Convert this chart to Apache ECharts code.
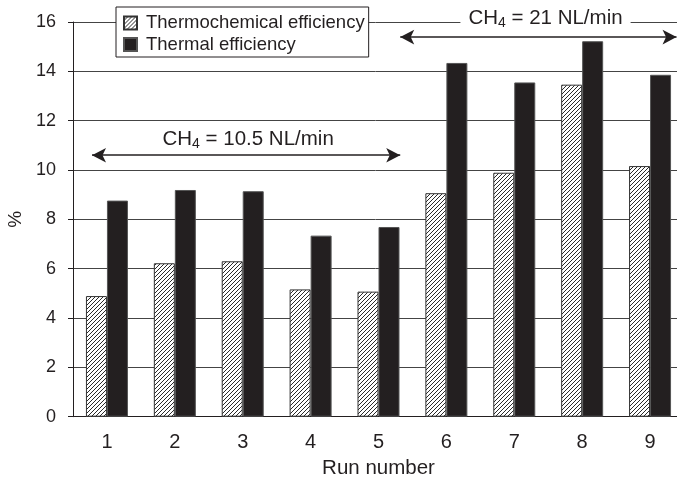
<!DOCTYPE html>
<html><head><meta charset="utf-8">
<script src="https://cdn.jsdelivr.net/npm/echarts@6/dist/echarts.min.js"></script>
<style>html,body{margin:0;padding:0;background:#fff}#c{width:677px;height:481px}</style>
</head><body><div id="c"></div>
<script>
var categories = ['1','2','3','4','5','6','7','8','9'];
var thermochemical = [4.89, 6.22, 6.30, 5.16, 5.07, 9.06, 9.89, 13.46, 10.16];
var thermal = [8.76, 9.19, 9.14, 7.34, 7.69, 14.34, 13.55, 15.22, 13.86];
var yTicks = [0, 2, 4, 6, 8, 10, 12, 14, 16];
// annotation arrows: [xStart, xEnd, y] in run-index units / % units
var arrow10 = [-0.22, 4.32, 10.6];
var arrow21 = [4.32, 8.39, 15.39];
// annotation texts: [x, y, CH, subscript, rest]
var text10 = [2.08, 10.6, 'CH', '4', ' = 10.5 NL/min'];
var text21 = [6.46, 16, 'CH', '4', ' = 21 NL/min'];

var ink = '#231f20';
var tile = document.createElement('canvas');
tile.width = 4; tile.height = 4;
var g = tile.getContext('2d');
g.fillStyle = '#fff'; g.fillRect(0,0,4,4);
g.strokeStyle = '#2a2a2a'; g.lineWidth = 1;
g.beginPath();
g.moveTo(-1,5); g.lineTo(5,-1);
g.moveTo(-3,3); g.lineTo(3,-3);
g.moveTo(1,7); g.lineTo(7,1);
g.stroke();

var font = 'Liberation Sans';
var chart = echarts.init(document.getElementById('c'));
var rich = { n: {fontSize: 20.5, color: ink, fontFamily: font}, s: {fontSize: 14, color: ink, fontFamily: font, verticalAlign: 'bottom', padding: [10,0,0,0]} };
function lbl(t){ return '{n|' + t[2] + '}{s|' + t[3] + '}{n|' + t[4] + '}'; }

chart.setOption({
  animation: false,
  textStyle: {fontFamily: font, color: ink},
  grid: {left: 73, width: 611, top: 22, height: 394.7, outerBoundsMode: 'none', containLabel: false},
  legend: {
    left: 116, top: 7, orient: 'vertical',
    backgroundColor: '#fff', borderColor: ink, borderWidth: 1,
    padding: [6.5, 4, 3, 7], itemGap: 2.5, itemWidth: 13, itemHeight: 13,
    textStyle: {fontSize: 18.5, color: ink, fontFamily: font, padding: [0,0,0,4]},
    data: [{name: 'Thermochemical efficiency', icon: 'rect'}, {name: 'Thermal efficiency', icon: 'rect'}]
  },
  xAxis: [{
    type: 'category', data: categories,
    name: 'Run number', nameLocation: 'middle', nameGap: 41,
    nameTextStyle: {fontSize: 20.5, color: ink, fontFamily: font},
    axisLine: {lineStyle: {color: ink, width: 1}},
    axisTick: {length: 7, lineStyle: {color: ink}},
    axisLabel: {fontSize: 20, color: ink, margin: 16, fontFamily: font}
  }, {
    type: 'value', min: -0.5, max: 8.5, show: false
  }],
  yAxis: {
    type: 'value', min: 0, max: 16, interval: 2,
    name: '%', nameLocation: 'middle', nameGap: 46, nameRotate: 90,
    nameTextStyle: {fontSize: 19, color: ink, fontFamily: font},
    axisLine: {show: true, onZero: false, lineStyle: {color: ink, width: 1}},
    axisTick: {show: true, length: 5, lineStyle: {color: ink}},
    axisLabel: {fontSize: 18, color: ink, margin: 17, fontFamily: font},
    splitLine: {lineStyle: {color: '#444', width: 1}}
  },
  series: [{
    name: 'Thermochemical efficiency', type: 'bar', data: thermochemical,
    barWidth: 21, barGap: '0%',
    itemStyle: {color: {image: tile, repeat: 'repeat'}, borderColor: '#333', borderWidth: 1}
  }, {
    name: 'Thermal efficiency', type: 'bar', data: thermal,
    barWidth: 21, barGap: '0%',
    itemStyle: {color: ink, borderColor: '#555', borderWidth: 1}
  }, {
    type: 'line', xAxisIndex: 1, data: [], silent: true,
    markLine: {
      silent: true, symbol: ['arrow', 'arrow'], symbolSize: [11, 14],
      lineStyle: {color: ink, width: 1.5, type: 'solid'},
      label: {show: false},
      data: [
        [{coord: [arrow10[0], arrow10[2]]}, {coord: [arrow10[1], arrow10[2]]}],
        [{coord: [arrow21[0], arrow21[2]]}, {coord: [arrow21[1], arrow21[2]]}]
      ]
    }
  }, {
    type: 'scatter', xAxisIndex: 1, silent: true, symbolSize: 0, clip: false, z: 5,
    itemStyle: {color: ink, opacity: 1},
    data: [
      {value: [text10[0], text10[1]], label: {show: true, position: 'top', distance: 4, color: ink, textBorderWidth: 0, formatter: lbl(text10), rich: rich}},
      {value: [text21[0], text21[1]], label: {show: true, position: 'inside', offset: [0, -4], color: ink, textBorderWidth: 0, formatter: lbl(text21), rich: rich, backgroundColor: '#fff', padding: [0, 8]}}
    ]
  }]
});
</script>
</body></html>
